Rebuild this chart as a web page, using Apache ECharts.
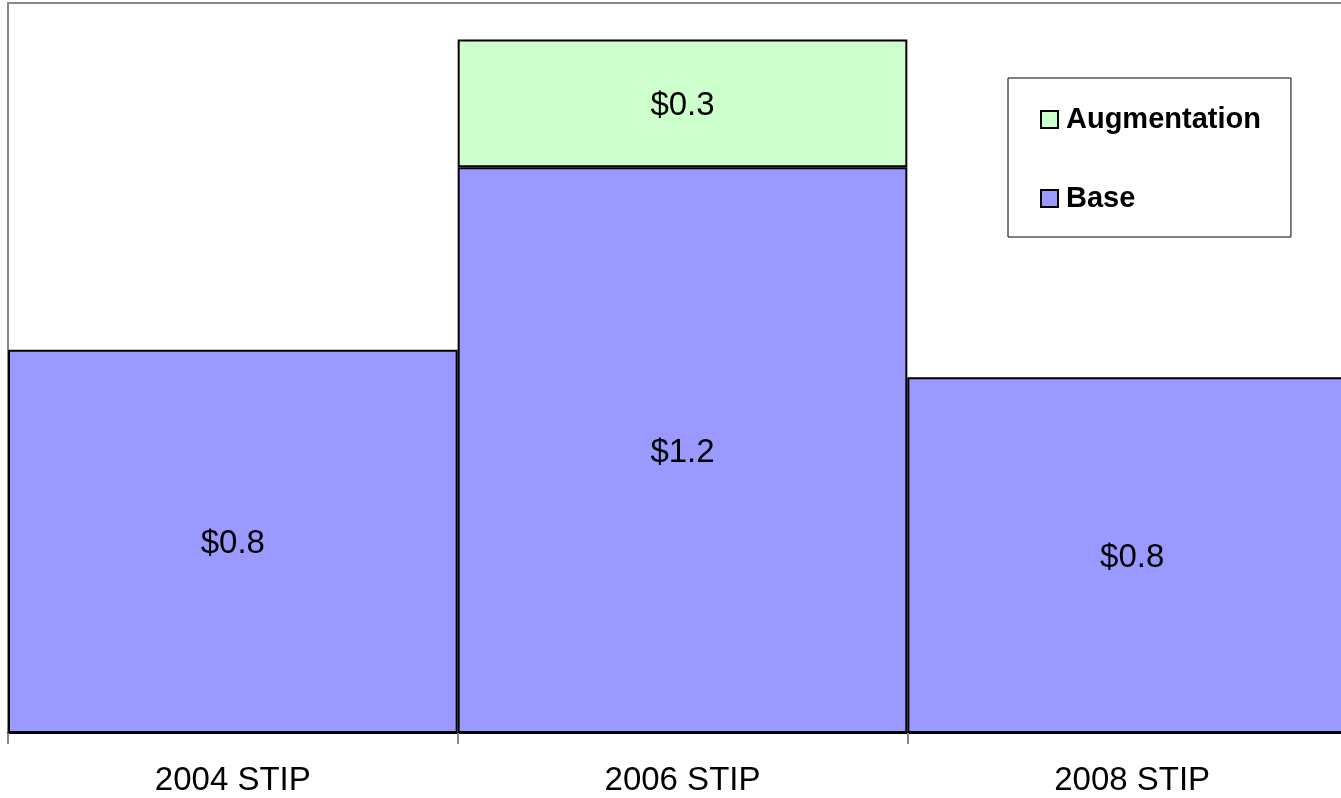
<!DOCTYPE html>
<html>
<head>
<meta charset="utf-8">
<script src="https://cdn.jsdelivr.net/npm/echarts@6/dist/echarts.min.js"></script>
<style>
  html, body { margin: 0; padding: 0; background: #fff; }
  #chart { width: 1341px; height: 798px; }
</style>
</head>
<body>
<div id="chart"></div>
<script>
  // data (in $ billions)
  const categories = ['2004 STIP', '2006 STIP', '2008 STIP'];
  const baseValues = [0.84, 1.24, 0.78];
  const augValues = [null, 0.28, null];

  const chart = echarts.init(document.getElementById('chart'));

  const labelFmt = p => (p.value == null ? '' : '$' + p.value.toFixed(1));

  chart.setOption({
    animation: false,
    textStyle: { fontFamily: 'Liberation Sans, Arial, sans-serif' },
    grid: {
      left: 8, width: 1349, top: 3, bottom: 65,
      show: true, borderColor: '#888', borderWidth: 2,
      containLabel: false,
      outerBoundsMode: 'none'   // plot runs past the right edge like the original
    },
    legend: {
      orient: 'vertical',
      left: 1008, top: 78,
      data: ['Augmentation', 'Base'],
      backgroundColor: '#fff',
      borderColor: '#000', borderWidth: 1,
      padding: [27, 30, 24, 32],
      itemGap: 50,
      itemWidth: 17, itemHeight: 17,
      icon: 'rect',
      textStyle: { fontSize: 29, fontWeight: 'bold', color: '#000', padding: [0, 0, 0, 3] }
    },
    xAxis: {
      type: 'category',
      data: categories,
      axisLine: { show: true, lineStyle: { color: '#000', width: 2 } },
      axisTick: { show: true, length: 11, lineStyle: { color: '#888', width: 2 } },
      axisLabel: { fontSize: 33, color: '#000', margin: 31 }
    },
    yAxis: {
      type: 'value',
      min: 0, max: 1.6,
      axisLine: { show: false },
      axisTick: { show: false },
      axisLabel: { show: false },
      splitLine: { show: false }
    },
    series: [
      {
        name: 'Base', type: 'bar', stack: 'total',
        data: baseValues,
        barCategoryGap: 0,
        itemStyle: { color: '#9999FF', borderColor: '#000', borderWidth: 2 },
        label: { show: true, position: 'inside', offset: [0, 3], fontSize: 33, color: '#000', formatter: labelFmt }
      },
      {
        name: 'Augmentation', type: 'bar', stack: 'total',
        data: augValues,
        barCategoryGap: 0,
        itemStyle: { color: '#CCFFCC', borderColor: '#000', borderWidth: 2 },
        label: { show: true, position: 'inside', offset: [0, 3], fontSize: 33, color: '#000', formatter: labelFmt }
      }
    ]
  });
</script>
</body>
</html>
